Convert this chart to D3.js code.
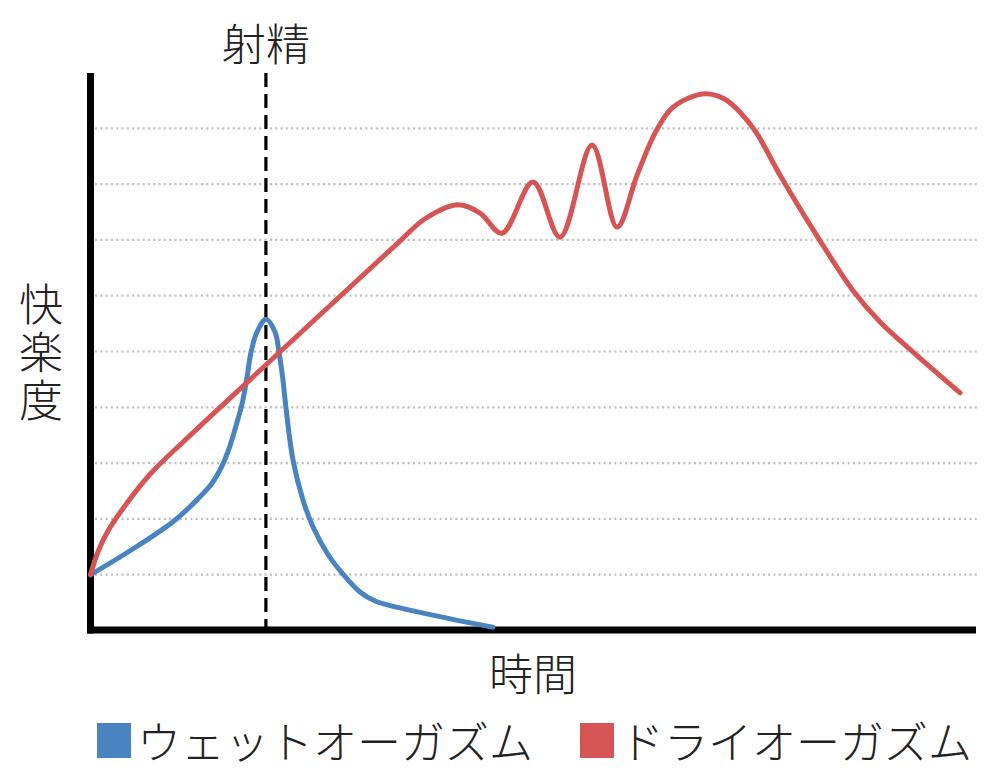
<!DOCTYPE html>
<html>
<head>
<meta charset="utf-8">
<script src="https://cdn.jsdelivr.net/npm/d3@7/dist/d3.min.js"></script>
<style>
  html, body { margin: 0; padding: 0; background: #fff; }
  svg { display: block; }
  text { font-family: "Noto Sans CJK JP", "Noto Sans", sans-serif; fill: #222; font-weight: 300; }
</style>
</head>
<body>
<svg id="chart" width="1000" height="780"></svg>
<script>
// ---- data ----
const wetTime   = [0, 4.47, 9.33, 12.15, 13.74, 14.87, 15.77, 16.45, 17.13, 17.69, 18.15, 18.82, 19.84, 20.86, 21.31, 21.76, 22.10, 22.89, 24.02, 25.15, 26.74, 28.55, 30.47, 32.17, 38.04, 45.50];
const wetValue  = [0.99, 1.42, 1.94, 2.35, 2.63, 2.94, 3.30, 3.66, 4.05, 4.52, 4.98, 5.34, 5.57, 5.34, 4.98, 4.48, 3.98, 3.05, 2.33, 1.85, 1.38, 1.00, 0.68, 0.52, 0.29, 0.05];
const dryTime   = [0, 0.79, 1.92, 3.96, 6.78, 10.74, 20.92, 34.99, 37.82, 41.55, 44.04, 46.52, 50.03, 53.08, 56.70, 59.53, 61.79, 63.83, 65.53, 67.56, 69.60, 71.63, 73.44, 75.25, 77.96, 82.15, 86.22, 89.27, 93.00, 98.31];
const dryValue  = [0.99, 1.38, 1.76, 2.24, 2.80, 3.41, 4.91, 6.97, 7.37, 7.62, 7.47, 7.11, 8.03, 7.04, 8.69, 7.22, 8.15, 8.91, 9.32, 9.53, 9.61, 9.52, 9.28, 8.92, 8.15, 7.06, 6.08, 5.52, 4.98, 4.25];
const gridValues = [1, 2, 3, 4, 5, 6, 7, 8, 9];
const ejaculationTime = 19.83;
const seriesNames = ["ウェットオーガズム", "ドライオーガズム"];
const seriesColors = ["#4a84c0", "#d65453"];
const labelTop = "射精";
const labelX = "時間";
const labelY = "快楽度";

// ---- scales ----
const svg = d3.select("#chart");
const x = d3.scaleLinear().domain([0, 100]).range([90.5, 975]);
const y = d3.scaleLinear().domain([0, 10]).range([630, 72]);

// grid lines (dotted)
const grid = svg.append("g")
  .attr("transform", "translate(95,0)")
  .call(d3.axisLeft(y).tickValues(gridValues).tickSize(-(977 - 95)).tickFormat(""));
grid.select(".domain").remove();
grid.selectAll(".tick line")
  .attr("stroke", "#bdbdbd")
  .attr("stroke-width", 2.2)
  .attr("stroke-dasharray", "2,3.3");

// series lines
const line = d3.line()
  .x(d => x(d[0]))
  .y(d => y(d[1]))
  .curve(d3.curveCatmullRom.alpha(0.5));

const wet = wetTime.map((t, i) => [t, wetValue[i]]);
const dry = dryTime.map((t, i) => [t, dryValue[i]]);

// axes
svg.append("line")
  .attr("x1", x(0)).attr("x2", x(0))
  .attr("y1", y(0) + 3.5).attr("y2", y(10) + 1)
  .attr("stroke", "#000").attr("stroke-width", 7);
svg.append("line")
  .attr("x1", x(0) - 3.5).attr("x2", x(100) + 1)
  .attr("y1", y(0)).attr("y2", y(0))
  .attr("stroke", "#000").attr("stroke-width", 7);

// ejaculation marker
svg.append("line")
  .attr("x1", x(ejaculationTime)).attr("x2", x(ejaculationTime))
  .attr("y1", y(10) + 1).attr("y2", y(0))
  .attr("stroke", "#000").attr("stroke-width", 3.2)
  .attr("stroke-dasharray", "14,7");

svg.append("path").datum(wet)
  .attr("d", line).attr("fill", "none")
  .attr("stroke", seriesColors[0]).attr("stroke-width", 5)
  .attr("stroke-linecap", "round").attr("stroke-linejoin", "round");
svg.append("path").datum(dry)
  .attr("d", line).attr("fill", "none")
  .attr("stroke", seriesColors[1]).attr("stroke-width", 5)
  .attr("stroke-linecap", "round").attr("stroke-linejoin", "round");

// labels
svg.append("text")
  .attr("x", x(ejaculationTime)).attr("y", 42)
  .attr("text-anchor", "middle").attr("dominant-baseline", "central")
  .attr("font-size", 44).text(labelTop);

svg.append("text")
  .attr("x", 533).attr("y", 672)
  .attr("text-anchor", "middle").attr("dominant-baseline", "central")
  .attr("font-size", 44).text(labelX);

svg.append("text")
  .attr("x", 41).attr("y", 282)
  .attr("writing-mode", "vertical-rl")
  .style("writing-mode", "vertical-rl")
  .attr("letter-spacing", 4)
  .attr("font-size", 44).text(labelY);

// legend
const legendX = [97, 580];
seriesNames.forEach((name, i) => {
  const g = svg.append("g").attr("transform", `translate(${legendX[i]},0)`);
  g.append("rect").attr("x", 0).attr("y", 723).attr("width", 34).attr("height", 35)
    .attr("fill", seriesColors[i]);
  g.append("text").attr("x", 40).attr("y", 740)
    .attr("dominant-baseline", "central")
    .attr("font-size", 44).text(name);
});
</script>
</body>
</html>
